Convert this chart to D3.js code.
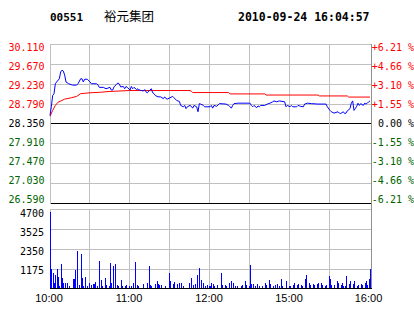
<!DOCTYPE html>
<html><head><meta charset="utf-8">
<script src="https://cdn.jsdelivr.net/npm/d3@7"></script>
<style>html,body{margin:0;padding:0;background:#fff;}svg{display:block;}</style>
</head><body>
<svg id="c" width="414" height="314"></svg>
<script>
// ---------- data ----------
const stockCode = "00551";
const stockName = "裕元集团";
const stamp = "2010-09-24 16:04:57";
const prevClose = 28.35;

const priceTicks = [30.110, 29.670, 29.230, 28.790, 28.350, 27.910, 27.470, 27.030, 26.590];
const pctTicks = ["+6.21 %", "+4.66 %", "+3.10 %", "+1.55 %", "0.00 %", "-1.55 %", "-3.10 %", "-4.66 %", "-6.21 %"];
const volTicks = [4700, 3525, 2350, 1175];
const timeTickMin = [0, 60, 120, 180, 240];
const timeTickLabels = ["10:00", "11:00", "12:00", "15:00", "16:00"];
const gridMin = [30, 60, 90, 120, 150, 180, 210];

// trading minutes since 10:00 (12:30 -> 150 continues at 14:30)
const priceMin = [0,1,2,3,4,5,7,8,9,10,11,12,14,17,20,21,23,24,25,26,28,30,31,35,36,37,40,42,45,46,47,48,50,51,52,53,55,56,57,58,60,61,62,63,65,66,67,70,71,72,73,75,76,77,78,79,81,83,85,86,87,88,90,92,93,95,97,98,100,101,102,103,105,106,107,108,110,111,112,113,115,116,120,121,122,123,125,127,132,134,135,136,137,138,141,150,151,152,153,155,156,157,158,161,163,165,167,168,170,172,176,177,178,180,181,182,185,186,188,190,191,192,193,196,201,207,208,210,211,213,216,217,218,220,221,222,223,225,226,227,228,229,230,231,232,233,235,236,237,238,239,240];
const priceVal = [28.53,28.72,28.97,29.01,29.23,29.27,29.34,29.49,29.53,29.51,29.42,29.27,29.23,29.20,29.20,29.23,29.34,29.34,29.27,29.33,29.33,29.27,29.23,29.23,29.20,29.15,29.15,29.12,29.15,29.09,29.09,29.16,29.22,29.25,29.22,29.16,29.17,29.12,29.17,29.15,29.09,29.17,29.12,29.15,29.10,29.12,29.09,29.07,29.10,29.05,29.03,29.09,29.12,29.03,29.01,28.97,28.94,28.94,28.90,28.94,28.90,28.89,28.92,28.95,28.92,28.86,28.84,28.75,28.72,28.75,28.68,28.72,28.75,28.73,28.69,28.75,28.72,28.61,28.79,28.78,28.75,28.72,28.72,28.75,28.69,28.75,28.73,28.79,28.78,28.75,28.72,28.69,28.75,28.79,28.80,28.80,28.75,28.72,28.75,28.70,28.74,28.72,28.75,28.75,28.78,28.80,28.83,28.85,28.83,28.85,28.83,28.72,28.75,28.72,28.75,28.72,28.72,28.75,28.73,28.72,28.78,28.79,28.80,28.79,28.78,28.78,28.72,28.64,28.61,28.58,28.61,28.58,28.57,28.61,28.57,28.58,28.63,28.68,28.80,28.85,28.64,28.68,28.73,28.80,28.75,28.79,28.75,28.80,28.78,28.80,28.83,28.85];

const avgMin = [0,2,4,6,9,11,16,20,23,30,37,45,60,105,106,107,134,135,161,162,201,202,223,224,240];
const avgVal = [28.51,28.64,28.75,28.82,28.86,28.89,28.92,28.95,29.01,29.03,29.04,29.06,29.08,29.08,29.065,29.035,29.035,29.005,29.005,28.98,28.98,28.96,28.96,28.935,28.935];

const volMin = [0,1,2,3,4,5,6,7,8,9,10,11,13,14,17,18,19,20,22,23,24,25,26,28,29,31,32,33,34,35,37,38,39,41,42,44,45,46,47,49,50,51,53,54,56,57,59,61,62,64,65,66,70,73,74,75,76,79,80,81,82,83,86,89,90,92,93,95,97,98,100,104,106,107,109,110,112,113,115,116,118,119,120,121,122,123,125,128,129,131,132,134,136,137,139,140,143,144,146,147,149,150,151,152,154,155,157,159,161,162,164,165,167,169,170,172,173,174,177,179,180,182,183,185,186,188,189,191,192,194,195,197,198,200,201,203,204,206,207,209,210,211,213,215,216,218,219,220,221,222,224,225,227,228,230,231,233,234,236,237,238,239,240];
const volVal = [4550,1140,890,300,790,1180,690,160,1420,630,350,350,300,140,590,590,1080,2200,200,2030,630,140,670,140,300,200,240,280,390,140,1620,500,140,630,200,140,1520,350,1320,1440,200,140,500,140,140,200,140,140,330,1580,200,140,240,330,1320,200,140,280,420,260,200,200,140,900,420,240,390,240,320,320,140,300,630,200,240,790,1220,500,320,140,200,140,160,350,280,140,200,900,200,200,140,350,470,350,140,140,140,200,420,200,140,1380,240,240,140,280,140,140,350,200,500,240,140,200,280,140,550,140,420,140,140,200,350,200,260,200,140,550,790,350,200,280,200,260,300,320,200,140,200,730,550,200,200,470,320,200,350,140,140,730,280,420,240,470,140,200,280,200,320,420,200,550,1140];

// ---------- drawing ----------
const svg = d3.select("#c");
const grid = "#c0c0c0";
const red = "#ff0000", green = "#006400", blue = "#0000ff";
const mono = "'DejaVu Sans Mono', monospace";

const x = d3.scaleLinear().domain([0, 240]).range([50, 370]);
const y = d3.scaleLinear().domain([26.59, 30.11]).range([203, 44]);
const vy = d3.scaleLinear().domain([0, 4700]).range([288.5, 209]);
const labY = d3.scaleLinear().domain([0, 8]).range([47.6, 199]);
const vLabY = d3.scaleLinear().domain([0, 3]).range([213.3, 270]);

// header
svg.append("text").attr("x", 50).attr("y", 21).attr("font-family", mono)
  .attr("font-weight", "bold").attr("font-size", 11).attr("fill", "#000").text(stockCode);
svg.append("text").attr("x", 104).attr("y", 20.5).attr("font-family", "'Noto Sans CJK SC', sans-serif")
  .attr("font-size", 12.5).attr("fill", "#000").text(stockName);
svg.append("text").attr("x", 238).attr("y", 21).attr("font-family", mono)
  .attr("font-weight", "bold").attr("font-size", 11.5).attr("fill", "#000").text(stamp);

const g = svg.append("g").attr("shape-rendering", "crispEdges");
const px = v => Math.round(v) + 0.5;

// price grid horizontal
priceTicks.forEach(p => {
  const yy = px(y(p));
  const strong = Math.abs(p - prevClose) < 1e-6 || Math.abs(p - 26.59) < 1e-6;
  g.append("line").attr("x1", 50).attr("x2", 371).attr("y1", yy).attr("y2", yy)
    .attr("stroke", strong ? "#000" : grid).attr("stroke-width", 1);
});
// verticals price & volume
gridMin.forEach(m => {
  const xx = Math.round(x(m)) - 0.5;
  g.append("line").attr("x1", xx).attr("x2", xx).attr("y1", 44).attr("y2", 203).attr("stroke", grid);
  g.append("line").attr("x1", xx).attr("x2", xx).attr("y1", 209).attr("y2", 288).attr("stroke", grid);
});
// volume horizontal
volTicks.forEach(v => {
  const yy = px(vy(v));
  g.append("line").attr("x1", 50).attr("x2", 371).attr("y1", yy).attr("y2", yy).attr("stroke", grid);
});
// frames
g.append("line").attr("x1", 50.5).attr("x2", 50.5).attr("y1", 44).attr("y2", 204).attr("stroke", grid);
g.append("line").attr("x1", 50.5).attr("x2", 50.5).attr("y1", 209).attr("y2", 289).attr("stroke", grid);
g.append("line").attr("x1", 371.5).attr("x2", 371.5).attr("y1", 44).attr("y2", 289).attr("stroke", "#909090");
g.append("line").attr("x1", 50).attr("x2", 372).attr("y1", 288.5).attr("y2", 288.5).attr("stroke", "#000");

// volume bars
g.selectAll("rect.v").data(volMin).join("rect")
  .attr("x", m => Math.round(x(m)))
  .attr("width", 1)
  .attr("y", (m, i) => Math.round(vy(volVal[i])))
  .attr("height", (m, i) => 288 - Math.round(vy(volVal[i])))
  .attr("fill", blue);

// lines
const avgLine = d3.line().x(d => x(d[0])).y(d => y(d[1]));
svg.append("path").datum(avgMin.map((m, i) => [m, avgVal[i]]))
  .attr("d", avgLine).attr("fill", "none").attr("stroke", red).attr("stroke-width", 1);
svg.append("path").datum(priceMin.map((m, i) => [m, priceVal[i]]))
  .attr("d", avgLine).attr("fill", "none").attr("stroke", blue).attr("stroke-width", 1);

// axis labels
const colorFor = i => i < 4 ? red : (i === 4 ? "#000" : green);
priceTicks.forEach((p, i) => {
  svg.append("text").attr("x", 44.5).attr("y", labY(i) + 3.6).attr("text-anchor", "end")
    .attr("font-family", mono).attr("font-size", 10).attr("fill", colorFor(i)).text(p.toFixed(3));
  svg.append("text").attr("x", 414).attr("y", labY(i) + 3.6).attr("text-anchor", "end")
    .attr("font-family", mono).attr("font-size", 10).attr("fill", colorFor(i)).text(pctTicks[i]);
});
volTicks.forEach((v, i) => {
  svg.append("text").attr("x", 44).attr("y", vLabY(i) + 3.6).attr("text-anchor", "end")
    .attr("font-family", mono).attr("font-size", 10).attr("fill", "#000").text(v);
});
timeTickMin.forEach((m, i) => {
  const cx = Math.min(x(m) - 1, 368.5);
  svg.append("text").attr("x", cx).attr("y", 302).attr("text-anchor", "middle")
    .attr("font-family", "'Liberation Sans', Arial, sans-serif").attr("font-size", 11)
    .attr("fill", "#000").text(timeTickLabels[i]);
});
</script>
</body></html>
